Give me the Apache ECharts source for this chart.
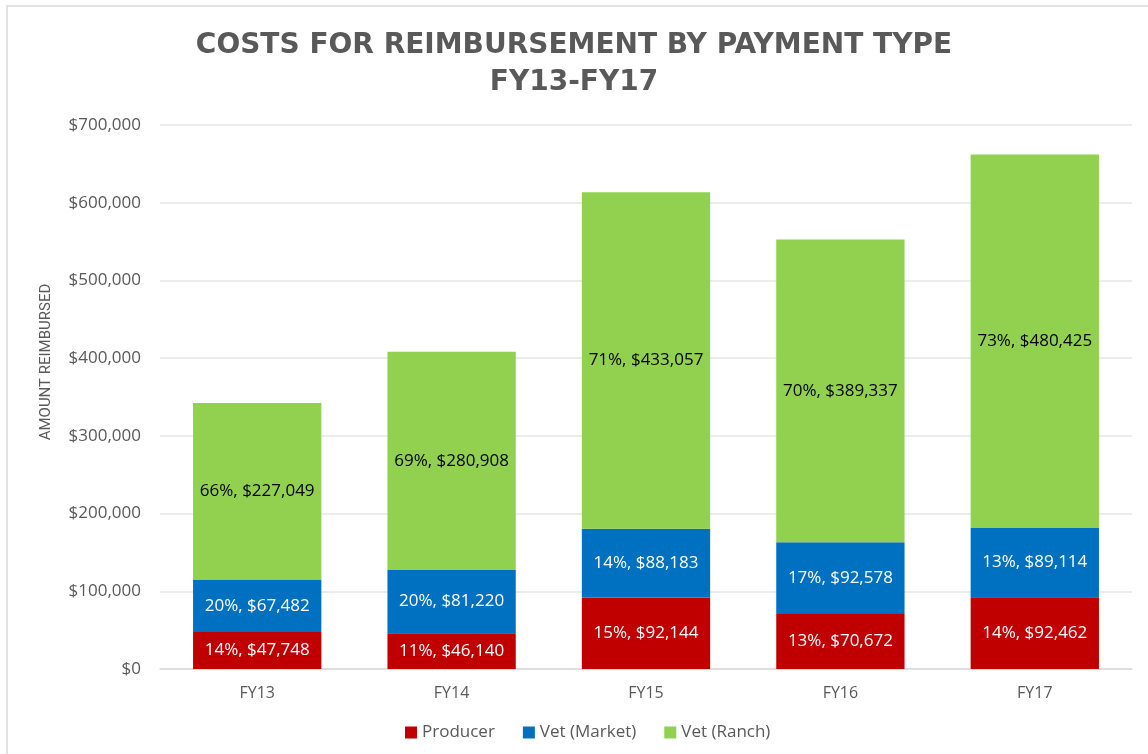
<!DOCTYPE html>
<html lang="en">
<head>
<meta charset="UTF-8" />
<title>Costs for Reimbursement by Payment Type</title>
<style>
  * { margin: 0; padding: 0; box-sizing: border-box; }
  html, body { width: 1148px; height: 754px; background: #fff; }
  #chart { width: 1148px; height: 754px; }
</style>
</head>
<body>
<div id="chart"></div>
<script src="https://cdn.jsdelivr.net/npm/echarts@6/dist/echarts.min.js"></script>
<script>
  // data
  const years = ['FY13', 'FY14', 'FY15', 'FY16', 'FY17']
  const producer = [47748, 46140, 92144, 70672, 92462]
  const vetMarket = [67482, 81220, 88183, 92578, 89114]
  const vetRanch = [227049, 280908, 433057, 389337, 480425]
  const producerPct = [14, 11, 15, 13, 14]
  const marketPct = [20, 20, 14, 17, 13]
  const ranchPct = [66, 69, 71, 70, 73]

  const font = '"Open Sans", "Noto Sans", sans-serif'
  const money = v => '$' + v.toLocaleString('en-US')

  function makeSeries(name, data, pct, color, textColor) {
    return {
      name: name,
      type: 'bar',
      stack: 'total',
      data: data,
      barCategoryGap: '34%',
      itemStyle: { color: color },
      label: {
        show: true,
        position: 'inside',
        color: textColor,
        fontFamily: font,
        fontSize: 17,
        formatter: p => pct[p.dataIndex] + '%, ' + money(p.value)
      },
      emphasis: { disabled: true }
    }
  }

  const chart = echarts.init(document.getElementById('chart'))
  chart.setOption({
    animation: false,
    title: {
      text: 'COSTS FOR REIMBURSEMENT BY PAYMENT TYPE\nFY13-FY17',
      left: 'center',
      top: 22,
      textStyle: {
        fontFamily: '"DejaVu Sans", sans-serif',
        fontWeight: 'bold',
        fontSize: 28,
        lineHeight: 37,
        color: '#595959'
      }
    },
    graphic: [{
      type: 'rect',
      shape: { x: 7, y: 6, width: 1200, height: 800 },
      style: { fill: 'none', stroke: '#d9d9d9', lineWidth: 1.5 },
      silent: true
    }],
    legend: {
      bottom: 8,
      left: 400,
      itemWidth: 12,
      itemHeight: 12,
      itemGap: 28,
      icon: 'rect',
      textStyle: { fontFamily: font, fontSize: 17, color: '#595959' },
      data: ['Producer', 'Vet (Market)', 'Vet (Ranch)']
    },
    grid: { left: 160, right: 16, top: 125, bottom: 85, containLabel: false },
    xAxis: {
      type: 'category',
      data: years,
      axisLine: { lineStyle: { color: '#d9d9d9', width: 1.5 } },
      axisTick: { show: false },
      axisLabel: { color: '#595959', fontFamily: font, fontSize: 16, margin: 16 }
    },
    yAxis: {
      type: 'value',
      min: 0,
      max: 700000,
      interval: 100000,
      name: 'AMOUNT REIMBURSED',
      nameLocation: 'middle',
      nameGap: 106,
      nameTextStyle: {
        color: '#595959',
        fontFamily: '"Liberation Sans Narrow", "Roboto", sans-serif',
        fontSize: 15,
        padding: [0, 0, 0, 70]
      },
      axisLine: { show: false },
      axisTick: { show: false },
      splitLine: { lineStyle: { color: '#e6e6e6', width: 1.5 } },
      axisLabel: {
        color: '#595959',
        fontFamily: font,
        fontSize: 17,
        margin: 19,
        formatter: v => money(v)
      }
    },
    series: [
      makeSeries('Producer', producer, producerPct, '#c00000', '#ffffff'),
      makeSeries('Vet (Market)', vetMarket, marketPct, '#0070c0', '#ffffff'),
      makeSeries('Vet (Ranch)', vetRanch, ranchPct, '#92d050', '#000000')
    ]
  })
</script>
</body>
</html>
